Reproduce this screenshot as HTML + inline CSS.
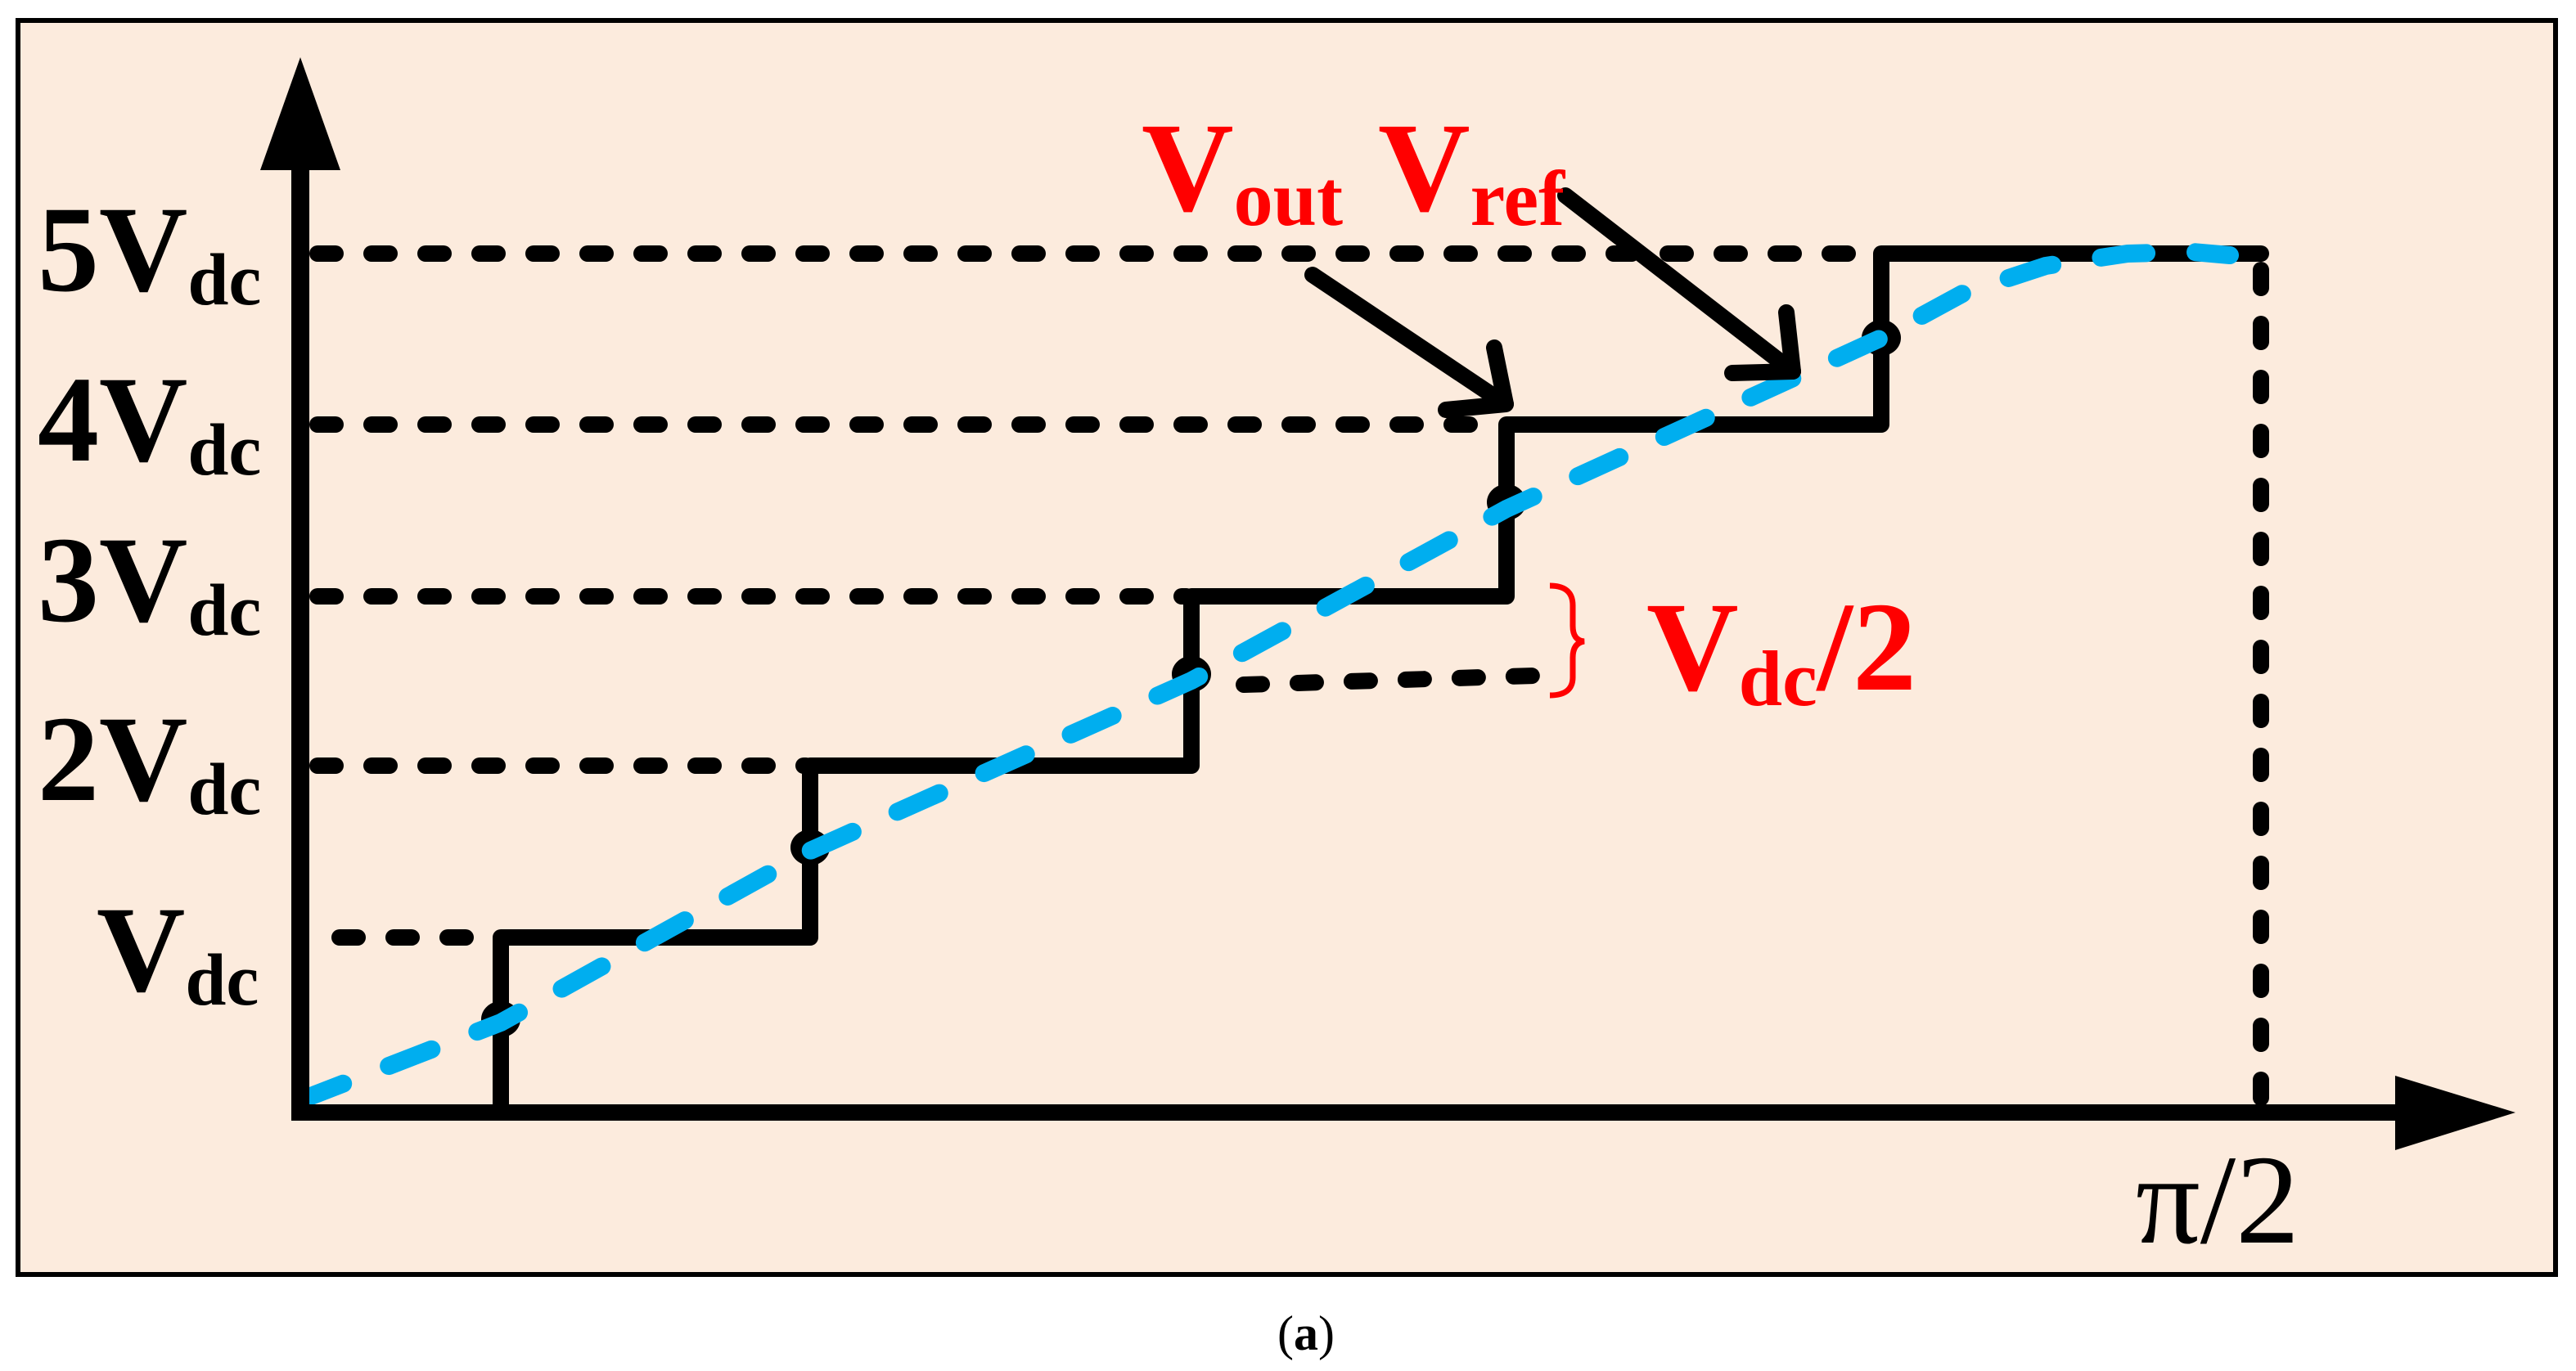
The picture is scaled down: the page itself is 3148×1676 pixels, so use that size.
<!DOCTYPE html>
<html><head><meta charset="utf-8"><style>
html,body{margin:0;padding:0;background:#fff;}
svg{display:block;}
text{font-family:"Liberation Serif",serif;}
</style></head><body>
<svg width="3148" height="1676" viewBox="0 0 3148 1676" xmlns="http://www.w3.org/2000/svg">
<rect x="22" y="25" width="3101" height="1533" fill="#FCEBDD" stroke="#000" stroke-width="6"/>
<g stroke="#000" stroke-width="20" stroke-linecap="round" stroke-dasharray="22 44" fill="none">
<line x1="388" y1="310" x2="2290" y2="310"/>
<line x1="388" y1="519" x2="1830" y2="519"/>
<line x1="388" y1="729" x2="1450" y2="729"/>
<line x1="388" y1="936" x2="985" y2="936"/>
<line x1="415" y1="1146" x2="600" y2="1146"/>
<line x1="1520" y1="837" x2="1875" y2="826"/>
<line x1="2763" y1="330" x2="2763" y2="1345"/>
</g>
<polyline points="612,1360 612,1146 990,1146 990,936 1456,936 1456,729 1841,729 1841,519 2299,519 2299,310 2763,310" fill="none" stroke="#000" stroke-width="20" stroke-linejoin="round" stroke-linecap="round"/>
<g fill="#000">
<ellipse cx="612" cy="1246" rx="24" ry="22"/>
<ellipse cx="990" cy="1036" rx="24" ry="22"/>
<ellipse cx="1456" cy="824" rx="24" ry="22"/>
<ellipse cx="1841" cy="614" rx="24" ry="22"/>
<ellipse cx="2299" cy="413" rx="24" ry="22"/>
</g>
<polyline points="367,1345 612,1250 990,1040 1456,832 1841,622 2299,413 2400,358 2500,325 2600,310 2680,308 2725,312" fill="none" stroke="#00AEEF" stroke-width="22" stroke-linecap="round" stroke-linejoin="round" stroke-dasharray="56 60"/>
<line x1="367" y1="1360" x2="2930" y2="1360" stroke="#000" stroke-width="20"/>
<polygon points="2927,1315 3074,1360 2927,1406" fill="#000"/>
<line x1="367" y1="1370" x2="367" y2="200" stroke="#000" stroke-width="22"/>
<polygon points="318,208 367,70 416,208" fill="#000"/>
<g stroke="#000" stroke-width="20" stroke-linecap="round" stroke-linejoin="round" fill="none">
<line x1="1604" y1="336" x2="1840" y2="494"/>
<polyline points="1826,425 1840,494 1767,501"/>
<line x1="1913" y1="239" x2="2191" y2="454"/>
<polyline points="2183,382 2191,454 2117,456"/>
</g>
<g font-weight="bold" fill="#000">
<text x="46" y="355" font-size="150">5V<tspan font-size="90" dy="17">dc</tspan></text>
<text x="46" y="563" font-size="150">4V<tspan font-size="90" dy="17">dc</tspan></text>
<text x="46" y="759" font-size="150">3V<tspan font-size="90" dy="17">dc</tspan></text>
<text x="46" y="978" font-size="150">2V<tspan font-size="90" dy="17">dc</tspan></text>
<text x="118" y="1211" font-size="150">V<tspan font-size="90" dy="17">dc</tspan></text>
</g>
<g font-weight="bold" fill="#FF0000">
<text x="1395" y="257" font-size="156">V<tspan font-size="96" dy="18">out</tspan></text>
<text x="1684" y="257" font-size="156">V<tspan font-size="96" dy="18">ref</tspan></text>
<text x="2012" y="843" font-size="156">V<tspan font-size="96" dy="19">dc</tspan><tspan dy="-19">/2</tspan></text>
</g>
<path d="M1894,716 Q1922,716 1922,740 L1922,765 Q1922,783 1936,784 Q1922,786 1922,804 L1922,828 Q1922,850 1894,850" fill="none" stroke="#FF0000" stroke-width="7"/>
<text x="2610" y="1519" font-size="156" fill="#000">π/2</text>
<text x="1596" y="1650" font-size="60" text-anchor="middle" fill="#000">(<tspan font-weight="bold">a</tspan>)</text>
</svg>
</body></html>
